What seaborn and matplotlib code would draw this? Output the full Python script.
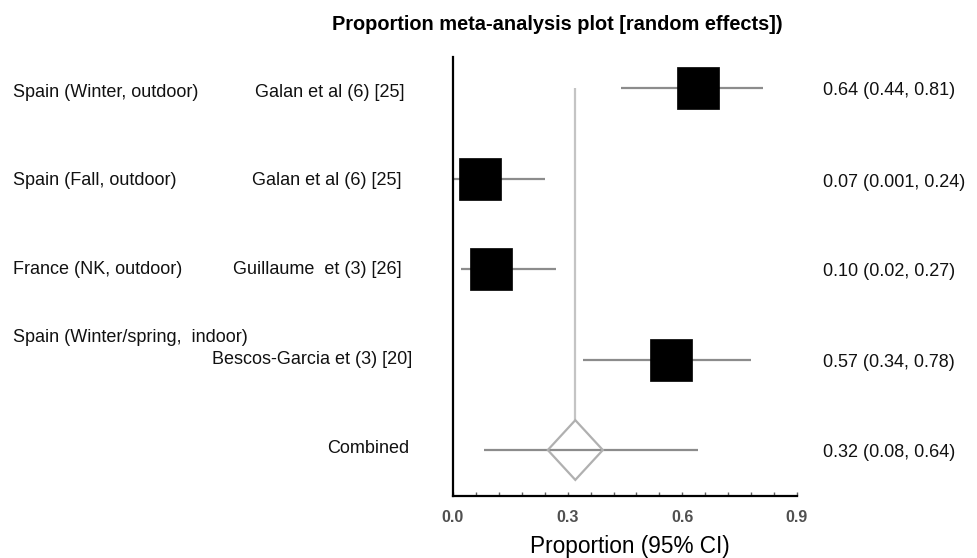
import numpy as np
import pandas as pd
import matplotlib
matplotlib.use("Agg")
import matplotlib.pyplot as plt
import seaborn as sns
from matplotlib import transforms
from matplotlib.ticker import MultipleLocator

# ---- data ----
regions = ["Spain (Winter, outdoor)", "Spain (Fall, outdoor)",
           "France (NK, outdoor)", "Spain (Winter/spring,  indoor)"]
studies = ["Galan et al (6) [25]", "Galan et al (6) [25]",
           "Guillaume  et (3) [26]", "Bescos-Garcia et (3) [20]"]
estimates = [0.64, 0.07, 0.10, 0.57]
ci_low = [0.44, 0.001, 0.02, 0.34]
ci_high = [0.81, 0.24, 0.27, 0.78]
ci_labels = ["0.64 (0.44, 0.81)", "0.07 (0.001, 0.24)",
             "0.10 (0.02, 0.27)", "0.57 (0.34, 0.78)"]
pooled_label = "Combined"
pooled_est = 0.32
pooled_low = 0.08
pooled_high = 0.64
pooled_text = "0.32 (0.08, 0.64)"
x_ticks = [0.0, 0.3, 0.6, 0.9]
x_tick_labels = ["0.0", "0.3", "0.6", "0.9"]

df = pd.DataFrame({"region": regions, "study": studies, "est": estimates,
                   "lo": ci_low, "hi": ci_high, "lab": ci_labels})
df["row"] = np.arange(len(df))
pooled_row = len(df)

# ---- style ----
sns.set_theme(style="white")
plt.rcParams["font.family"] = ["Liberation Sans", "DejaVu Sans"]

W, H = 978, 558
fig = plt.figure(figsize=(W / 100, H / 100), dpi=100)
ax = fig.add_axes([453 / W, 1 - 496 / H, (797 - 453) / W, (496 - 57) / H])

# CI lines
ax.hlines(df["row"], df["lo"], df["hi"], color="#8c8c8c", lw=1.6, zorder=1)
ax.hlines(pooled_row, pooled_low, pooled_high, color="#8c8c8c", lw=1.6, zorder=1)

# squares
sns.scatterplot(data=df, x="est", y="row", marker="s", s=940, color="black",
                edgecolor="black", linewidth=0.5, ax=ax, zorder=3, legend=False)

# pooled diamond & reference line
dh = 0.072
dv = 0.33
ax.fill([pooled_est - dh, pooled_est, pooled_est + dh, pooled_est],
        [pooled_row, pooled_row - dv, pooled_row, pooled_row + dv],
        facecolor="none", edgecolor="#b0b0b0", lw=1.6, zorder=2)
ax.vlines(pooled_est, 0, pooled_row - dv, color="#c4c4c4", lw=1.6, zorder=0)

ax.set_xlim(0, 0.9)
ax.set_ylim(4.508, -0.343)
ax.set_yticks([])
ax.set_xticks(x_ticks)
ax.set_xticklabels(x_tick_labels, fontsize=11.5, fontweight="bold", color="#505050")
ax.xaxis.set_minor_locator(MultipleLocator(0.06))
ax.tick_params(axis="x", which="both", bottom=True, length=3, width=1,
               color="#606060", direction="in", pad=10)
for s in ["top", "right"]:
    ax.spines[s].set_visible(False)
for s in ["left", "bottom"]:
    ax.spines[s].set_color("black")
    ax.spines[s].set_linewidth(1.6)
ax.set_xlabel("")
ax.set_ylabel("")

# texts
tr = transforms.blended_transform_factory(fig.transFigure, ax.transData)
fs = 13
region_x = [13, 13, 13, 13]
region_dy = [0.05, 0.02, 0.01, -0.24]
study_x = [255, 252, 233, 212]
study_dy = [0.05, 0.02, 0.01, 0.0]
lab_dy = [0.03, 0.04, 0.03, 0.03]
for i, r in df.iterrows():
    ax.text(region_x[i] / W, r["row"] + region_dy[i], r["region"], transform=tr,
            fontsize=fs, va="center", ha="left", color="#111111")
    ax.text(study_x[i] / W, r["row"] + study_dy[i], r["study"], transform=tr,
            fontsize=fs, va="center", ha="left", color="#111111")
    ax.text(823 / W, r["row"] + lab_dy[i], r["lab"], transform=tr,
            fontsize=fs, va="center", ha="left", color="#111111")
ax.text(409 / W, pooled_row - 0.02, pooled_label, transform=tr,
        fontsize=fs, va="center", ha="right", color="#111111")
ax.text(823 / W, pooled_row + 0.03, pooled_text, transform=tr,
        fontsize=fs, va="center", ha="left", color="#111111")

fig.text(557 / W, 1 - 25 / H, "Proportion meta-analysis plot [random effects])",
         fontsize=14.4, fontweight="bold", ha="center", va="center", color="black")
fig.text(630 / W, 1 - 546 / H, "Proportion (95% CI)", fontsize=16.3,
         ha="center", va="center", color="black")

fig.savefig("out.png", dpi=100)
